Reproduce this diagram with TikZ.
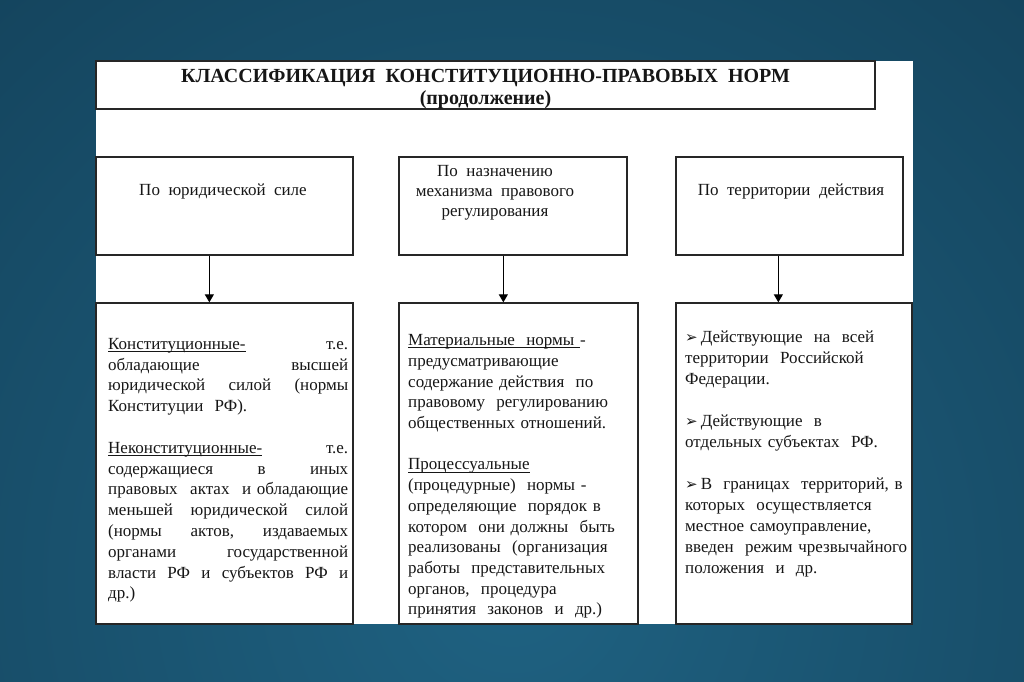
\documentclass[tikz,border=0pt]{standalone}
\usepackage{fontspec}
\setmainfont{Liberation Serif}
\newfontfamily\symfont{DejaVu Sans}
\usetikzlibrary{arrows.meta}
\definecolor{bgin}{HTML}{1F6282}
\definecolor{bgout}{HTML}{0D3146}
\definecolor{ink}{HTML}{161616}
\definecolor{edge}{HTML}{262626}
\newcommand\myul[1]{\leavevmode\setbox0=\hbox{#1}\rlap{\rule[-2.6pt]{\wd0}{0.9pt}}\box0}
\newcommand\bul{\leavevmode\raisebox{-0.5pt}{\symfont\fontsize{15}{15}\selectfont ➢}\hspace{3pt}}
\newcommand\fst{\leavevmode\rule{0pt}{12pt}}
\begin{document}
\begin{tikzpicture}[x=1pt,y=-1pt,
  box/.style={draw=edge, line width=1.3pt, inner sep=0pt, fill=white},
  txt/.style={inner sep=0pt, anchor=north west, align=left, text=ink,
    font=\fontsize{17}{20.7}\selectfont},
  lbl/.style={inner sep=0pt, text=ink, font=\fontsize{17}{20}\selectfont},
  arr/.style={draw=black, line width=1pt, -{Triangle[length=8pt,width=9pt]}}]
\useasboundingbox (0,0) rectangle (1024,681);
\begin{scope}
  \clip (0,0) rectangle (1024,681);
  \shade[inner color=bgin, outer color=bgout] (512,580) circle (1300);
\end{scope}
\fill[white] (96,61) rectangle (913,624);

% title
\node[box, minimum width=779pt, minimum height=48pt] (title) at (485.5,85) {};
\node[inner sep=0pt, anchor=north, align=center, text=ink,
  font=\bfseries\fontsize{20}{22.5}\selectfont] (tt) at (485.5,68)
  {\rule{0pt}{14pt}КЛАССИФИКАЦИЯ\ \ КОНСТИТУЦИОННО-ПРАВОВЫХ\ \ НОРМ\\(продолжение)};

% top boxes
\node[box, minimum width=257pt, minimum height=98pt] (b1) at (224.5,206) {};
\node[box, minimum width=228pt, minimum height=98pt] (b2) at (513,206) {};
\node[box, minimum width=227pt, minimum height=98pt] (b3) at (789.5,206) {};
\node[lbl, anchor=base] (t1) at (223,195) {По\ \ юридической\ \ силе};
\node[lbl, anchor=north, align=center] (t2) at (495,164)
  {\fst По\ \ назначению\\ механизма\ \ правового\\ регулирования};
\node[lbl, anchor=base] (t3) at (791,195) {По\ \ территории\ \ действия};

% bottom boxes
\node[box, minimum width=257pt, minimum height=321pt] (c1) at (224.5,463.5) {};
\node[box, minimum width=239pt, minimum height=321pt] (c2) at (518.5,463.5) {};
\node[box, minimum width=236pt, minimum height=321pt] (c3) at (794,463.5) {};

% arrows
\draw[arr] (b1.south west) ++(114,0) coordinate (s1) -- (s1 |- c1.north);
\draw[arr] (b2.south west) ++(105,0) coordinate (s2) -- (s2 |- c2.north);
\draw[arr] (b3.south west) ++(103,0) coordinate (s3) -- (s3 |- c3.north);

% texts in bottom boxes
\node[txt, text width=240pt, font=\fontsize{17}{20.8}\selectfont] (x1) at (108,337) {\fst\myul{Конституционные-}\hfill т.е.\\
обладающие\hfill высшей\\
юридической\hfill силой\hfill (нормы\\
Конституции\ \ РФ).\\[20.8pt]
\myul{Неконституционные-}\hfill т.е.\\
содержащиеся\hfill в\hfill иных\\
правовых\hfill актах\hfill и обладающие\\
меньшей\hfill юридической\hfill силой\\
(нормы\hfill актов,\hfill издаваемых\\
органами\hfill государственной\\
власти\hfill РФ\hfill и\hfill субъектов\hfill РФ\hfill и\\
др.)};

\node[txt, text width=260pt] (x2) at (408,333.5) {\fst\myul{Материальные\ \ нормы\ }-\\
предусматривающие\\
содержание действия\ \ по\\
правовому\ \ регулированию\\
общественных отношений.\\[20.7pt]
\myul{Процессуальные}\\
(процедурные)\ \ нормы -\\
определяющие\ \ порядок в\\
котором\ \ они должны\ \ быть\\
реализованы\ \ (организация\\
работы\ \ представительных\\
органов,\ \ процедура\\
принятия\ \ законов\ \ и\ \ др.)};

\node[txt, text width=260pt, font=\fontsize{17}{21}\selectfont] (x3) at (685,330) {\fst\bul Действующие\ \ на\ \ всей\\
территории\ \ Российской\\
Федерации.\\[21pt]
\bul Действующие\ \ в\\
отдельных субъектах\ \ РФ.\\[21pt]
\bul В\ \ границах\ \ территорий,\ в\\
которых\ \ осуществляется\\
местное самоуправление,\\
введен\ \ режим чрезвычайного\\
положения\ \ и\ \ др.};
\end{tikzpicture}
\end{document}
